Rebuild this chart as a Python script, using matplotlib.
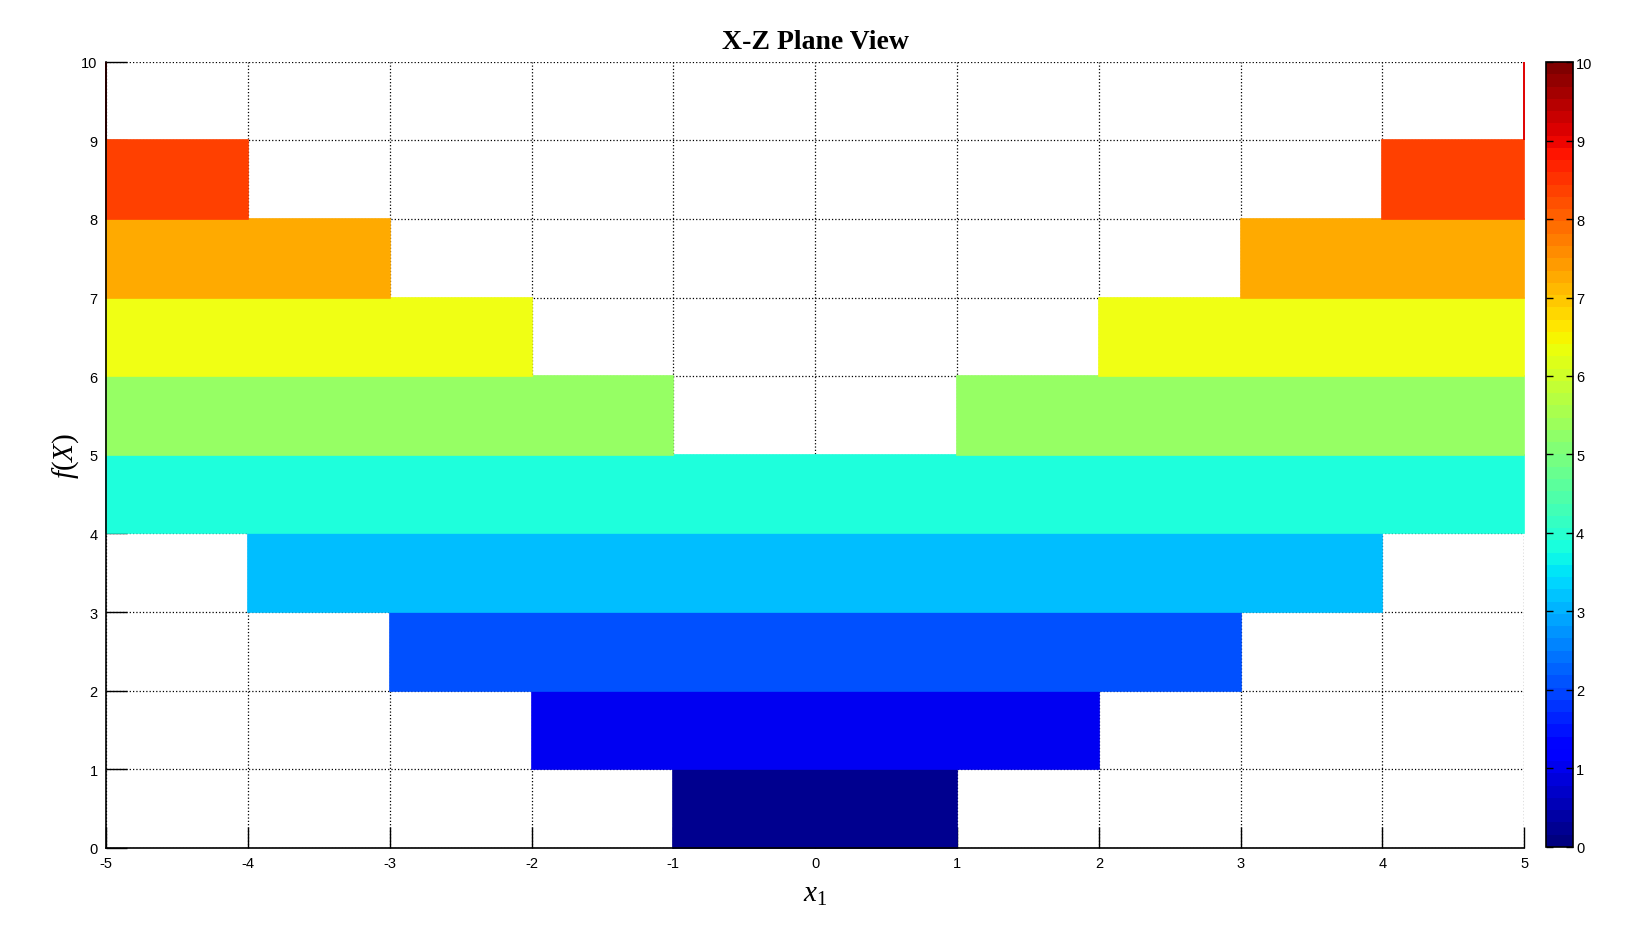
"""X-Z plane view: banded f(X) over x1, MATLAB style."""
import matplotlib
matplotlib.use("Agg")
import matplotlib.pyplot as plt
import numpy as np
from matplotlib.colors import Normalize
from matplotlib.cm import ScalarMappable

plt.rcParams["mathtext.fontset"] = "custom"
plt.rcParams["mathtext.it"] = "Liberation Serif:italic"
plt.rcParams["mathtext.rm"] = "Liberation Serif"
plt.rcParams["axes.unicode_minus"] = False

# band k covers f(X) in [k, k+1] where inner <= |x1| <= outer
band_lo = [0, 1, 2, 3, 4, 5, 6, 7, 8, 9]
band_inner = [0, 0, 0, 0, 0, 1, 2, 3, 4, 5]
band_outer = [1, 2, 3, 4, 5, 5, 5, 5, 5, 5]
band_colors = ["#00008F", "#0000F2", "#0050FF", "#00BEFF", "#1EFFDC",
               "#96FF64", "#F0FF14", "#FFAA00", "#FF4000", "#E00000"]
x_ticks = [-5, -4, -3, -2, -1, 0, 1, 2, 3, 4, 5]
y_ticks = list(range(0, 11))

fig = plt.figure(figsize=(16.32, 9.45), dpi=100)
ax = fig.add_axes([0.065, 0.1016, 0.869, 0.832])
cax = fig.add_axes([0.9475, 0.1027, 0.0165, 0.8306])

ax.set_axisbelow(True)
ax.grid(True, color="black", linestyle=":", linewidth=0.9)

for lo, inner, outer, col in zip(band_lo, band_inner, band_outer, band_colors):
    if inner == 0:
        segs = [(-outer, 2 * outer)]
    else:
        segs = [(-outer, outer - inner), (inner, outer - inner)]
    lw = 1.4 if inner == outer else 1.2
    for left, width in segs:
        ax.barh(lo, width, left=left, height=1, align="edge",
                color=col, edgecolor=col, linewidth=lw, zorder=2,
                clip_on=False)

ax.set_xlim(-5, 5)
ax.set_ylim(0, 10)
ax.set_xticks(x_ticks)
ax.set_yticks(y_ticks)
ax.tick_params(direction="in", length=15, width=1, labelsize=10.5, pad=6)
for s in ["top", "right"]:
    ax.spines[s].set_visible(False)
for s in ["left", "bottom"]:
    ax.spines[s].set_linewidth(1.2)
    ax.spines[s].set_zorder(3)
for lbl in ax.get_xticklabels() + ax.get_yticklabels():
    lbl.set_family("Liberation Sans")

ax.set_title("X-Z Plane View", fontsize=20, fontweight="bold",
             family="Liberation Serif", pad=10)
ax.set_xlabel(r"$x_{\mathit{1}}$", fontsize=21, labelpad=6)
ax.set_ylabel(r"$f(X)$", fontsize=21, labelpad=0)

sm = ScalarMappable(norm=Normalize(0, 10), cmap=plt.get_cmap("jet", 64))
cb = fig.colorbar(sm, cax=cax, ticks=y_ticks)
cb.outline.set_linewidth(1.2)
cax.tick_params(direction="in", length=5, width=1, labelsize=10.5,
                left=True, right=True, pad=2)
for lbl in cax.get_yticklabels():
    lbl.set_family("Liberation Sans")

fig.savefig("out.png", dpi=100)
